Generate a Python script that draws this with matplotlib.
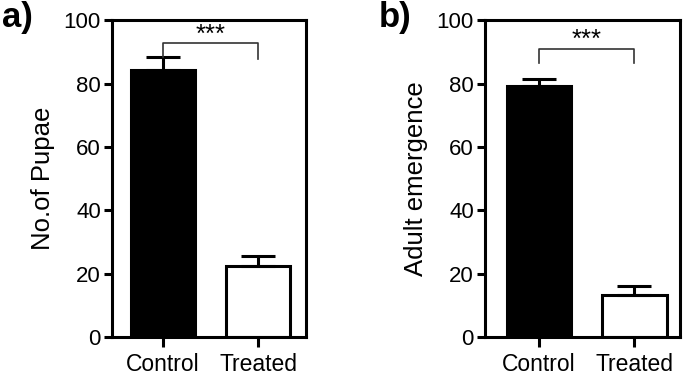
import matplotlib
matplotlib.use("Agg")
import matplotlib.pyplot as plt

plt.rcParams['font.family'] = ['Liberation Sans', 'DejaVu Sans']

categories = ["Control", "Treated"]
pupae_means = [84.2, 22.5]
pupae_err = [4.0, 3.2]
adult_means = [79.2, 13.5]
adult_err = [2.3, 2.6]
yticks = [0, 20, 40, 60, 80, 100]

fig = plt.figure(figsize=(6.86, 3.76), dpi=100)

def panel(rect, means, errs, ylabel, tag, tag_x, xlim, bracket_y, leg_bottom):
    ax = fig.add_axes(rect)
    x = list(range(len(categories)))
    ax.bar(x, means, width=0.68, color=['black', 'white'], edgecolor='black',
           linewidth=2.2, zorder=2)
    ax.errorbar(x, means, yerr=[[0, 0], errs], fmt='none', ecolor='black',
                elinewidth=2.2, capsize=12.5, capthick=2.2, zorder=3)
    ax.set_xlim(*xlim)
    ax.set_ylim(0, 100)
    ax.set_yticks(yticks)
    ax.set_xticks(x)
    ax.set_xticklabels(categories)
    for s in ax.spines.values():
        s.set_linewidth(2.2)
    ax.tick_params(axis='y', width=2.2, length=6, labelsize=16, pad=2)
    ax.tick_params(axis='x', width=2.2, length=7, labelsize=16.5, pad=4)
    ax.set_ylabel(ylabel, fontsize=18.5, labelpad=6)
    # significance bracket
    ax.plot([0, 0, 1, 1], [leg_bottom[0], bracket_y, bracket_y, leg_bottom[1]],
            color='#333333', linewidth=1.2, zorder=4)
    ax.text(0.5, bracket_y + 0.6, '***', ha='center', va='baseline', fontsize=18.5)
    fig.text(tag_x, 0.998, tag, ha='left', va='top', fontsize=25, fontweight='bold')
    return ax

panel([0.1633, 0.1024, 0.2823, 0.8444], pupae_means, pupae_err, "No.of Pupae", "a)",
      0.003, (-0.537, 1.502), 92.6, (88.2, 87.7))
panel([0.7070, 0.1024, 0.2843, 0.8444], adult_means, adult_err, "Adult emergence", "b)",
      0.552, (-0.568, 1.48), 91.0, (86.3, 86.3))

fig.savefig("out.png", dpi=100)
